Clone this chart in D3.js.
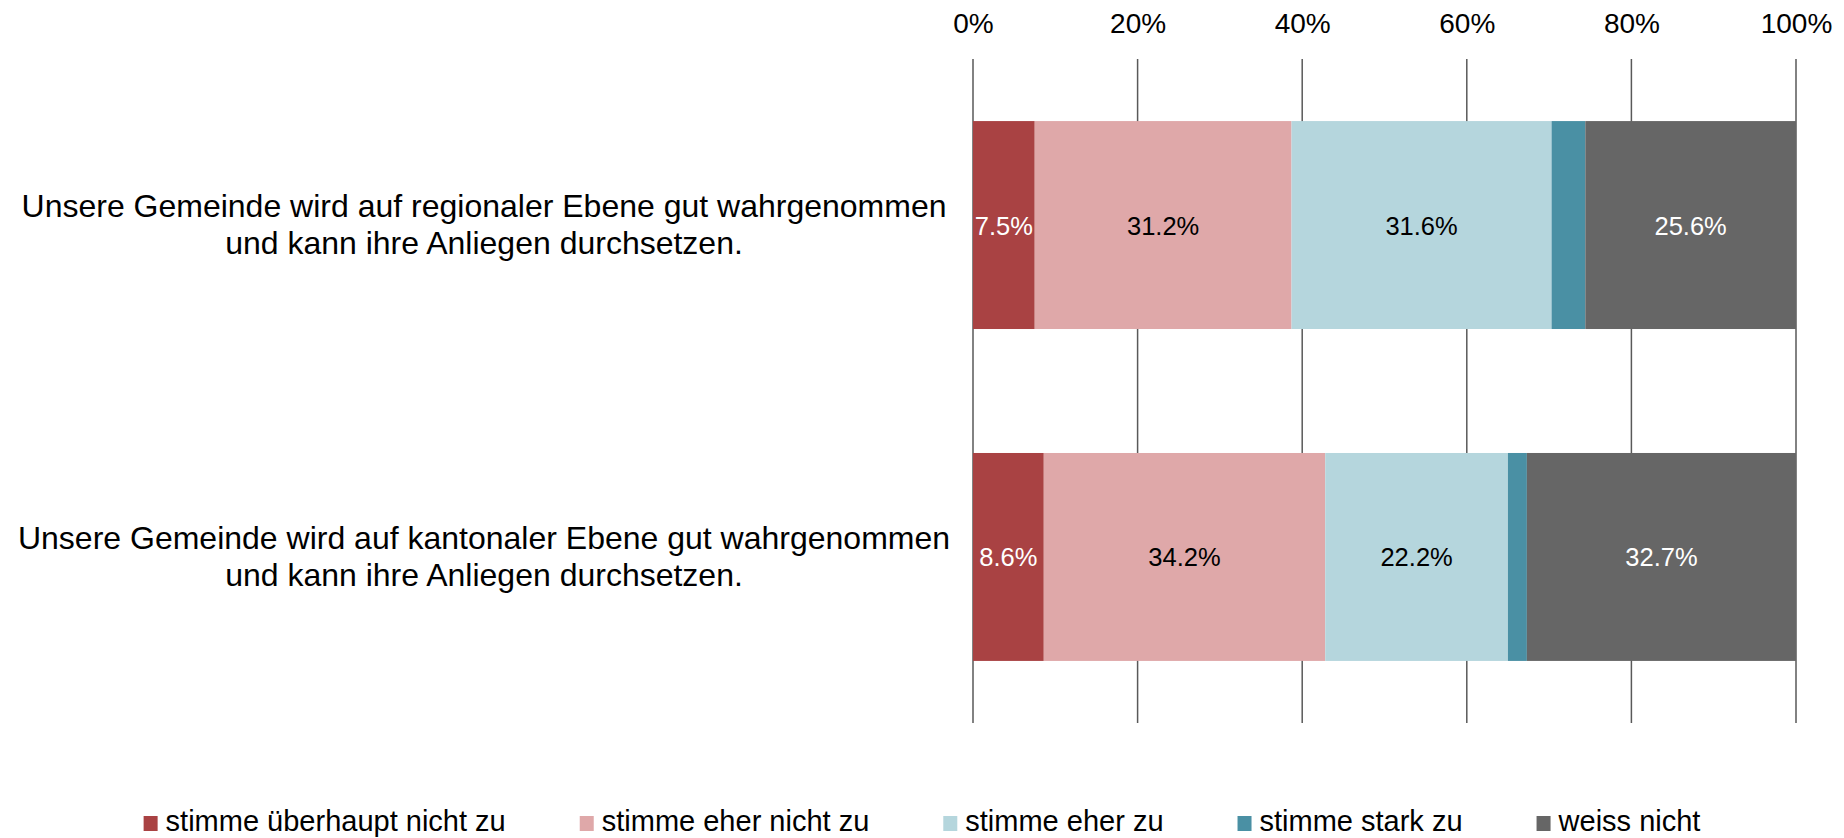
<!DOCTYPE html>
<html>
<head>
<meta charset="utf-8">
<script src="https://cdn.jsdelivr.net/npm/d3@7"></script>
<style>
  body { margin: 0; background: #fff; }
  svg { display: block; font-family: "Liberation Sans", Arial, sans-serif; }
</style>
</head>
<body>
<svg id="chart" width="1844" height="838"></svg>
<script>
// categories, one per bar (each is two lines of text)
const categories = [
  ["Unsere Gemeinde wird auf regionaler Ebene gut wahrgenommen", "und kann ihre Anliegen durchsetzen."],
  ["Unsere Gemeinde wird auf kantonaler Ebene gut wahrgenommen", "und kann ihre Anliegen durchsetzen."]
];
const seriesNames = ["stimme überhaupt nicht zu", "stimme eher nicht zu", "stimme eher zu", "stimme stark zu", "weiss nicht"];
const seriesColors = ["#a94243", "#dfa8a9", "#b5d6dd", "#4a90a4", "#666666"];
// label colour per series; null = no value label
const labelColors = ["#ffffff", "#000000", "#000000", null, "#ffffff"];

// percent per series, rows follow categories
const regional = [7.5, 31.2, 31.6, 4.1, 25.6];
const kantonal = [8.6, 34.2, 22.2, 2.3, 32.7];
const values = [regional, kantonal];

const ticks = [0, 20, 40, 60, 80, 100];

const svg = d3.select('#chart');

const x = d3.scaleLinear()
  .domain([0, 100])
  .range([973, 1796]);

const y = d3.scaleBand()
  .domain(d3.range(categories.length))
  .range([59, 723])
  .paddingInner(0.3735)
  .paddingOuter(0.187);

// vertical grid lines, behind the bars
svg.append('g').selectAll('line')
  .data(ticks)
  .enter().append('line')
    .attr('x1', d => x(d))
    .attr('x2', d => x(d))
    .attr('y1', 59)
    .attr('y2', 723)
    .attr('stroke', '#595959')
    .attr('stroke-width', 1.5);

// tick labels on top
const axis = d3.axisTop(x)
  .tickValues(ticks)
  .tickFormat(d => d + '%')
  .tickSize(0)
  .tickPadding(0);

const axisG = svg.append('g')
  .attr('transform', 'translate(0,33)')
  .call(axis);
axisG.select('.domain').remove();
axisG.selectAll('text')
  .attr('dy', 0)
  .attr('font-size', 28)
  .attr('font-family', '"Liberation Sans", Arial, sans-serif')
  .attr('fill', '#000');

// stacked segments
const rows = values.map((vals, i) => {
  let acc = 0;
  return vals.map((v, j) => {
    const seg = { row: i, series: j, x0: acc, x1: acc + v, value: v };
    acc += v;
    return seg;
  });
});

const rowG = svg.append('g').selectAll('g')
  .data(rows)
  .enter().append('g');

rowG.selectAll('rect')
  .data(d => d)
  .enter().append('rect')
    .attr('x', d => x(d.x0))
    .attr('width', d => x(d.x1) - x(d.x0))
    .attr('y', d => y(d.row))
    .attr('height', y.bandwidth())
    .attr('fill', d => seriesColors[d.series]);

rowG.selectAll('text')
  .data(d => d.filter(s => labelColors[s.series]))
  .enter().append('text')
    .attr('x', d => x((d.x0 + d.x1) / 2))
    .attr('y', d => y(d.row) + y.bandwidth() / 2 + 9.5)
    .attr('text-anchor', 'middle')
    .attr('font-size', 25.5)
    .attr('fill', d => labelColors[d.series])
    .text(d => d.value.toFixed(1) + '%');

// category labels, two centered lines
const catG = svg.append('g').selectAll('text')
  .data(categories)
  .enter().append('text')
    .attr('text-anchor', 'middle')
    .attr('font-size', 32)
    .attr('fill', '#000');

catG.selectAll('tspan')
  .data((d, i) => d.map((line, k) => ({ line, k, row: i })))
  .enter().append('tspan')
    .attr('x', 484)
    .attr('y', d => y(d.row) + y.bandwidth() / 2 - 8 + d.k * 36.7)
    .text(d => d.line);

// legend, centered under the chart
const legend = svg.append('g');
const items = legend.selectAll('g')
  .data(seriesNames)
  .enter().append('g');

items.append('rect')
  .attr('width', 14)
  .attr('height', 15)
  .attr('y', 816)
  .attr('fill', (d, i) => seriesColors[i]);

items.append('text')
  .attr('x', 22)
  .attr('y', 831)
  .attr('font-size', 29)
  .attr('fill', '#000')
  .text(d => d);

let offset = 0;
const widths = [];
items.each(function() {
  const w = 22 + this.querySelector('text').getComputedTextLength();
  widths.push(w);
});
const gap = 74;
const total = d3.sum(widths) + gap * (widths.length - 1);
offset = 922 - total / 2;
items.attr('transform', (d, i) => {
  const tx = offset;
  offset += widths[i] + gap;
  return `translate(${tx},0)`;
});
</script>
</body>
</html>
